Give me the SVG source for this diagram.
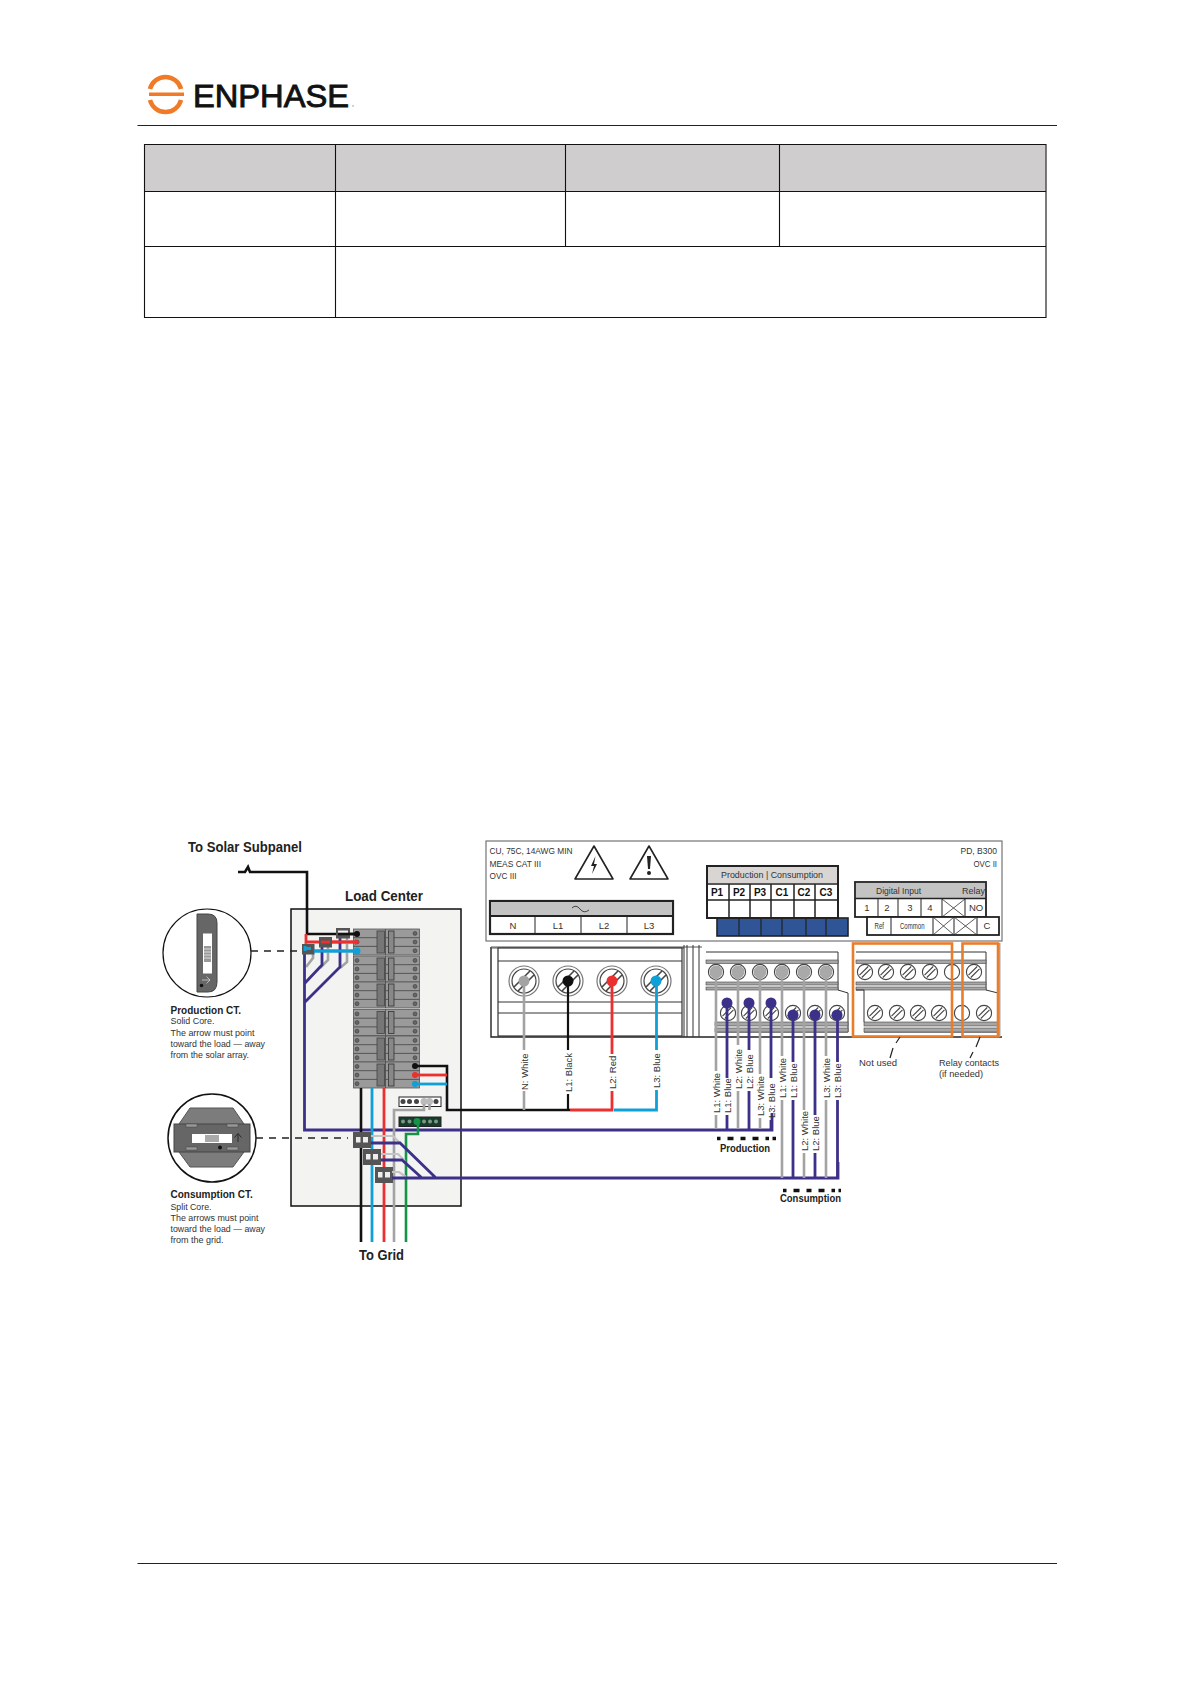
<svg xmlns="http://www.w3.org/2000/svg" width="1191" height="1684" viewBox="0 0 1191 1684">
<style>
text{font-family:"Liberation Sans",Arial,sans-serif;fill:#333}
.h{font-weight:bold;fill:#222;font-size:14px}
.b{font-weight:bold;fill:#222;font-size:10px}
.s{font-size:9.6px}
.m{font-size:9.5px;text-anchor:middle}
.c{font-size:10px;text-anchor:middle;fill:#222}
.k{font-weight:bold;font-size:10px;text-anchor:middle;fill:#111}
.r{font-size:9.5px}
.pu{stroke:#3c3188;stroke-width:2.8;fill:none}
.gy{stroke:#a3a3a3;stroke-width:2.6;fill:none}
.lg{stroke:#c4c4c4;stroke-width:2.2;fill:none}
.bk{stroke:#111;stroke-width:2.6;fill:none}
.rd{stroke:#ec2f2f;stroke-width:2.8;fill:none}
.bl{stroke:#10a0d8;stroke-width:2.8;fill:none}
.gn{stroke:#159447;stroke-width:2.6;fill:none}
.or{fill:none;stroke:#ea7d2c;stroke-width:2.6}
.ln{stroke:#333;stroke-width:1;fill:none}
.ct{fill:#555;stroke:none}
</style>
<defs>
<g id="scr"><circle r="7.6" fill="#fff" stroke="#444" stroke-width="1.1"/><path d="M-5.5 3.2 3.2-5.5M-3.2 5.5 5.5-3.2" stroke="#444" stroke-width="1.1" fill="none"/></g>
<g id="big"><circle r="15" fill="#fff" stroke="#777" stroke-width="1.2"/><circle r="12" fill="#fff" stroke="#444" stroke-width="1.2"/><path d="M-10 6 6-10M-6 10 10-6" stroke="#444" stroke-width="1.6" fill="none"/></g>
<g id="brk">
<rect width="66" height="26" fill="#9a9a9a" stroke="#555" stroke-width=".8"/>
<path d="M0 8.7H66M0 17.4H66" stroke="#444" stroke-width=".8"/>
<path d="M32 0V26" stroke="#555" stroke-width="1"/>
<rect x="23.500" y="2" width="7.500" height="22" fill="#777" stroke="#444" stroke-width=".8"/>
<rect x="35" y="2" width="5.500" height="22" fill="#888" stroke="#333" stroke-width=".8"/>
<g fill="#666" stroke="#333" stroke-width=".5"><circle cx="3.500" cy="4.400" r="2"/><circle cx="3.500" cy="13" r="2"/><circle cx="3.500" cy="21.700" r="2"/><circle cx="61.500" cy="4.400" r="2"/><circle cx="61.500" cy="13" r="2"/><circle cx="61.500" cy="21.700" r="2"/></g>
</g>
<g id="cctf"><rect width="18" height="16" fill="#555"/><rect x="3" y="5" width="12" height="5.500" fill="#eee"/><rect x="7.500" y="5" width="2.500" height="11" fill="#555"/></g>
</defs>
<rect width="1191" height="1684" fill="#fff"/>

<g id="logo">
<path d="M150 89A16 16 0 0 1 181 89M150 100A16 16 0 0 0 181 100" fill="none" stroke="#f07a26" stroke-width="4.500"/>
<rect x="149" y="92.500" width="35" height="3.500" fill="#f07a26"/>
<text x="193" y="106.500" font-size="32" textLength="156" lengthAdjust="spacingAndGlyphs" style="fill:#111;stroke:#111;stroke-width:.9">ENPHASE</text>
<circle cx="353" cy="106" r=".8" fill="#999"/>
</g>
<g id="page-rules">
<path d="M137.500 125.500H1057M137.500 1563.500H1057" stroke="#222" stroke-width="1.2"/>
</g>
<g id="table">
<rect x="144.500" y="144.500" width="901" height="46.500" fill="#cfcdce"/>
<path d="M144.500 144.500H1046V317.500H144.500ZM144.500 191.500H1046M144.500 246.500H1046M335.500 144.500V317.500M565.500 144.500V246.500M779.500 144.500V246.500" fill="none" stroke="#111" stroke-width="1.1"/>
</g>

<g id="load-center">
<rect x="291" y="909" width="170" height="297" fill="#f3f3f2" stroke="#111" stroke-width="1.500"/>
<text class="h" x="345" y="900.500" textLength="78" lengthAdjust="spacingAndGlyphs">Load Center</text>
<g id="breakers">
<use href="#brk" x="353.500" y="929"/><use href="#brk" x="353.500" y="956"/><use href="#brk" x="353.500" y="982"/><use href="#brk" x="353.500" y="1009.500"/><use href="#brk" x="353.500" y="1036"/><use href="#brk" x="353.500" y="1062"/>
</g>
<g id="bus-neutral"><rect x="399" y="1097" width="42" height="9.500" fill="#fff" stroke="#222" stroke-width="1"/>
<g fill="#444"><circle cx="403" cy="1101.500" r="2.500"/><circle cx="409.500" cy="1101.500" r="2.500"/><circle cx="416.500" cy="1101.500" r="2.500"/><circle cx="436" cy="1101.500" r="2.500"/></g>
<g fill="#bbb"><circle cx="424" cy="1101.500" r="3.500"/><circle cx="429.500" cy="1101.500" r="3.500"/></g></g>
<g id="bus-ground"><rect x="399" y="1117" width="42" height="9.500" fill="#183c2c" stroke="#222" stroke-width="1"/>
<g fill="#7b9a86"><circle cx="403" cy="1121.500" r="2"/><circle cx="409.500" cy="1121.500" r="2"/><circle cx="424" cy="1121.500" r="2"/><circle cx="430" cy="1121.500" r="2"/><circle cx="436" cy="1121.500" r="2"/></g></g>
</g>

<g id="production-ct">
<circle cx="207" cy="953" r="44" fill="#fff" stroke="#111" stroke-width="1.200"/>
<path d="M197 914H208Q217 914 217 923V982Q217 992 208 992H197Z" fill="#666" stroke="#444"/>
<rect x="203" y="933.500" width="9" height="40" fill="#fff"/>
<rect x="204" y="946" width="7" height="16" fill="#999"/>
<path d="M204 949H211M204 952H211M204 955H211M204 958H211" stroke="#eee" stroke-width=".8"/>
<circle cx="201.500" cy="985.500" r="1.800" fill="#111"/>
<path d="M202 980H210M206.500 976.500 210 980 206.500 983.500" stroke="#ddd" fill="none" stroke-width=".7"/>
<text class="b" x="170.500" y="1013.500">Production CT.</text>
<text class="s" x="170.500" y="1024" textLength="44" lengthAdjust="spacingAndGlyphs">Solid Core.</text>
<text class="s" x="170.500" y="1035.500" textLength="84" lengthAdjust="spacingAndGlyphs">The arrow must point</text>
<text class="s" x="170.500" y="1047" textLength="94.500" lengthAdjust="spacingAndGlyphs">toward the load — away</text>
<text class="s" x="170.500" y="1057.500" textLength="78.500" lengthAdjust="spacingAndGlyphs">from the solar array.</text>
</g>
<g id="consumption-ct">
<circle cx="212" cy="1138" r="44" fill="#fff" stroke="#111" stroke-width="1.500"/>
<path d="M190 1108H233L244 1124V1152L233 1167H190L179 1152V1124Z" fill="#7c7c7c" stroke="#555"/>
<rect x="174" y="1124" width="76" height="28" fill="#666" stroke="#444"/>
<rect x="192" y="1134" width="40" height="9" fill="#fff"/>
<rect x="205" y="1135" width="14" height="7" fill="#aaa"/>
<g fill="#999" stroke="#444" stroke-width=".5"><rect x="186" y="1124" width="11" height="3"/><rect x="227" y="1124" width="11" height="3"/><rect x="186" y="1147" width="11" height="3"/><rect x="227" y="1147" width="11" height="3"/></g>
<circle cx="220" cy="1147.500" r="2" fill="#111"/>
<path d="M238 1142V1134M234.500 1137.500 238 1133.500 241.500 1137.500" stroke="#222" fill="none" stroke-width=".9"/>
<text class="b" x="170.500" y="1198">Consumption CT.</text>
<text class="s" x="170.500" y="1209.500" textLength="41" lengthAdjust="spacingAndGlyphs">Split Core.</text>
<text class="s" x="170.500" y="1221" textLength="88" lengthAdjust="spacingAndGlyphs">The arrows must point</text>
<text class="s" x="170.500" y="1232" textLength="94.500" lengthAdjust="spacingAndGlyphs">toward the load — away</text>
<text class="s" x="170.500" y="1243" textLength="53" lengthAdjust="spacingAndGlyphs">from the grid.</text>
</g>

<g id="terminal-panel">
<rect x="486" y="841" width="516" height="100" fill="#fff" stroke="#666" stroke-width="1.100"/>
<text class="r" x="489.500" y="854" textLength="83" lengthAdjust="spacingAndGlyphs">CU, 75C, 14AWG MIN</text>
<text class="r" x="489.500" y="867" textLength="51.500" lengthAdjust="spacingAndGlyphs">MEAS CAT III</text>
<text class="r" x="489.500" y="878.500" textLength="27" lengthAdjust="spacingAndGlyphs">OVC III</text>
<text class="r" x="960.500" y="854" textLength="36.500" lengthAdjust="spacingAndGlyphs">PD, B300</text>
<text class="r" x="973.500" y="867" textLength="23.500" lengthAdjust="spacingAndGlyphs">OVC II</text>
<path d="M594 846 575 879H613Z" fill="#fff" stroke="#222" stroke-width="1.600" stroke-linejoin="round"/>
<path d="M595.500 856 591 866 594 866 592 874 597 864 594 864Z" fill="#222"/>
<path d="M649 846 630 879H668Z" fill="#fff" stroke="#222" stroke-width="1.600" stroke-linejoin="round"/>
<path d="M647 856H651L650 869H648Z" fill="#222"/><circle cx="649" cy="873" r="2" fill="#222"/>
<g id="ac-block">
<rect x="490" y="901" width="183" height="33" fill="#fff" stroke="#222" stroke-width="2.200"/>
<rect x="491" y="902" width="181" height="14" fill="#c3c3c3"/>
<path d="M490 916H673" stroke="#222" stroke-width="1.800"/>
<path d="M535 916V934M581 916V934M627 916V934" stroke="#222" stroke-width="1"/>
<path d="M572 908Q576 904 580 909T589 910" fill="none" stroke="#333" stroke-width=".9"/>
<text class="m" x="513" y="929">N</text><text class="m" x="558" y="929">L1</text><text class="m" x="604" y="929">L2</text><text class="m" x="649" y="929">L3</text>
</g>
<g id="ct-labels">
<rect x="717" y="918" width="131" height="18" fill="#2f5597" stroke="#222" stroke-width="1.600"/>
<path d="M739 918V936M761 918V936M782 918V936M806 918V936M826 918V936" stroke="#222" stroke-width="1.200"/>
<rect x="707" y="866" width="131" height="52" fill="#fff" stroke="#222" stroke-width="2"/>
<rect x="708" y="867" width="129" height="16" fill="#d8d5d2"/>
<path d="M707 884H838M707 900H838" stroke="#222" stroke-width="1.500"/>
<path d="M729 884V918M750 884V918M771 884V918M794 884V918M815 884V918" stroke="#222" stroke-width="1.500"/>
<text class="m" x="772" y="878" style="font-size:9px" textLength="102" lengthAdjust="spacingAndGlyphs">Production  |  Consumption</text>
<text class="k" x="717" y="896">P1</text><text class="k" x="739" y="896">P2</text><text class="k" x="760" y="896">P3</text><text class="k" x="782" y="896">C1</text><text class="k" x="804" y="896">C2</text><text class="k" x="826" y="896">C3</text>
</g>
<g id="io-labels">
<rect x="855" y="882" width="131" height="35" fill="#fff" stroke="#222" stroke-width="1.800"/>
<rect x="856" y="883" width="129" height="15" fill="#c3c3c3"/>
<path d="M855 898.500H986" stroke="#222" stroke-width="1.500"/>
<path d="M878 899V917M898 899V917M921 899V917M942 899V917M965 899V917" stroke="#222" stroke-width="1"/>
<path d="M942 899 965 917M965 899 942 917" stroke="#333" stroke-width=".8"/>
<text class="r" x="876" y="894" textLength="45" lengthAdjust="spacingAndGlyphs">Digital Input</text><text class="r" x="962" y="894" textLength="23" lengthAdjust="spacingAndGlyphs">Relay</text>
<text class="m" x="867" y="911">1</text><text class="m" x="887" y="911">2</text><text class="m" x="910" y="911">3</text><text class="m" x="930" y="911">4</text><text class="m" x="976" y="911">NO</text>
<rect x="867" y="917" width="132" height="18" fill="#fff" stroke="#222" stroke-width="1.800"/>
<path d="M891 917V935M933 917V935M954 917V935M977 917V935" stroke="#222" stroke-width="1"/>
<path d="M933 917 954 935M954 917 933 935M954 917 977 935M977 917 954 935" stroke="#333" stroke-width=".8"/>
<text class="r" x="874.500" y="929" textLength="9.500" lengthAdjust="spacingAndGlyphs">Ref</text><text class="r" x="900" y="929" textLength="24.500" lengthAdjust="spacingAndGlyphs">Common</text><text class="m" x="987" y="929">C</text>
</g>
</g>

<g id="terminal-blocks">
<path d="M491 947V1037H1002" style="stroke:#222;stroke-width:1.400;fill:none"/>
<path d="M491 947H702M490 948H684" stroke="#555" fill="none"/>
<rect x="498" y="948" width="184" height="88" fill="#fff" stroke="#333" stroke-width="1.200"/>
<path d="M498 961H682M498 1002H682M498 1013H682" stroke="#333" stroke-width="1"/>
<path d="M684 945V1037M687 945V1037M693 945V1037M699 945V1037" stroke="#333" stroke-width="1"/>
<use href="#big" x="524" y="981"/><use href="#big" x="568" y="981"/><use href="#big" x="612" y="981"/><use href="#big" x="656" y="981"/>
<path id="block-mid" d="M706 952H838V990L848 993V1032H715" fill="#fff" stroke="#333" stroke-width="1"/>
<g fill="#a7a7a7" stroke="#444" stroke-width=".6"><rect x="706" y="960" width="132" height="3.500"/><rect x="706" y="982" width="132" height="3"/><rect x="706" y="987" width="132" height="3"/><rect x="715" y="1022" width="133" height="4"/><rect x="715" y="1028" width="133" height="4"/></g>
<path id="block-right" d="M856 952H986V990L998 993V1032H864" fill="#fff" stroke="#333" stroke-width="1"/>
<g fill="#a7a7a7" stroke="#444" stroke-width=".6"><rect x="856" y="960" width="130" height="3.500"/><rect x="856" y="982" width="130" height="3"/><rect x="856" y="987" width="130" height="3"/><rect x="864" y="1022" width="134" height="4"/><rect x="864" y="1028" width="134" height="4"/></g>
<path d="M856 990H864V1022" fill="none" stroke="#333"/>
<rect x="998" y="943" width="2.500" height="94" fill="#aaa"/>
<use href="#scr" x="716" y="972"/><use href="#scr" x="738" y="972"/><use href="#scr" x="760" y="972"/><use href="#scr" x="782" y="972"/><use href="#scr" x="804" y="972"/><use href="#scr" x="826" y="972"/>
<use href="#scr" x="728" y="1013"/><use href="#scr" x="749" y="1013"/><use href="#scr" x="771" y="1013"/><use href="#scr" x="793" y="1013"/><use href="#scr" x="815" y="1013"/><use href="#scr" x="837" y="1013"/>
<use href="#scr" x="865" y="972"/><use href="#scr" x="886" y="972"/><use href="#scr" x="908" y="972"/><use href="#scr" x="930" y="972"/><circle cx="952" cy="972" r="7.600" fill="#fff" stroke="#444" stroke-width="1.100"/><use href="#scr" x="974" y="972"/>
<use href="#scr" x="875" y="1013"/><use href="#scr" x="897" y="1013"/><use href="#scr" x="918" y="1013"/><use href="#scr" x="939" y="1013"/><circle cx="962" cy="1013" r="7.600" fill="#fff" stroke="#444" stroke-width="1.100"/><use href="#scr" x="984" y="1013"/>
<rect class="or" x="853" y="943.500" width="99" height="93"/>
<rect class="or" x="962.500" y="943.500" width="35.500" height="93"/>
<text class="r" x="859" y="1066" textLength="38" lengthAdjust="spacingAndGlyphs">Not used</text>
<text class="r" x="939" y="1066" textLength="60" lengthAdjust="spacingAndGlyphs">Relay contacts</text>
<text class="r" x="939" y="1077" textLength="44" lengthAdjust="spacingAndGlyphs">(if needed)</text>
</g>

<g id="connectors">
<path class="bk" d="M238 872H245L248 867L250 872H307V934H357"/>
<path class="rd" d="M306 934V942H358"/>
<path class="bl" d="M306 943V951H358"/>
<path d="M251 951H305" stroke="#222" stroke-width="1.300" stroke-dasharray="7 6" fill="none"/>
<path d="M256 1138H348" stroke="#222" stroke-width="1.300" stroke-dasharray="7 6" fill="none"/>

<path class="gy" d="M313 953V958L306 967M328 947V960L320 968M347 938V962L340 968"/>
<path class="pu" d="M304.500 951V1130H772V1113M322 947V965L305 983M340 938V967L305 1002"/>
<g class="ct"><rect x="302" y="944" width="12.500" height="10.500"/><rect x="319" y="937" width="13" height="10.500"/><rect x="336" y="928" width="14" height="10.500"/></g>
<path class="bl" d="M305 948.500H311M305 946V951"/>
<path class="rd" d="M321 942H330"/>
<path d="M338 932H348" stroke="#eee" stroke-width="3"/>
<path class="bl" d="M314 951H358"/><path class="rd" d="M332 942H358"/><path class="bk" d="M338 934H357"/>
<g><circle cx="357" cy="934" r="3" fill="#111"/><path d="M355 939 360 942 355 945Z" fill="#ec2f2f"/><circle cx="357" cy="951" r="3.500" fill="#10a0d8"/></g>

<path class="bk" d="M415 1066H447V1110H570"/>
<path class="rd" d="M415 1075H447"/><path class="bl" d="M415 1084H447"/>
<circle cx="415" cy="1066" r="3" fill="#111"/><circle cx="415" cy="1075" r="3" fill="#ec2f2f"/><circle cx="415" cy="1084" r="3" fill="#10a0d8"/>

<path class="bk" d="M361 1088V1242"/><path class="bl" d="M372 1088V1242"/><path class="rd" d="M384 1088V1242"/>
<path class="gy" d="M394 1242V1110H424V1104M429.500 1110V1104"/>
<path class="gn" d="M406 1242V1134H418V1122"/><circle cx="417" cy="1121.500" r="3.500" fill="#159447"/>

<use href="#cctf" x="353" y="1132"/><use href="#cctf" x="363" y="1149"/><use href="#cctf" x="375" y="1167"/>
<path class="lg" d="M371 1136H393L400 1143M381 1154H398L405 1161M392 1172H399L406 1177"/>
<path class="pu" d="M371 1143H400L436 1178M381 1160H402L422 1178M392 1178H838V1162"/>

<path class="gy" d="M524 981V1050M524 1091V1110"/>
<path class="bk" style="stroke-width:2.200" d="M568 981V1050M568 1094V1110"/>
<path class="rd" d="M612 981V1054M612 1091V1110H570"/>
<path class="bl" d="M656.500 981V1050M656.500 1090V1110H614"/>
<circle cx="524" cy="981" r="5.500" fill="#a3a3a3"/><circle cx="568" cy="981" r="5.500" fill="#111"/><circle cx="612" cy="981" r="5.500" fill="#ec2f2f"/><circle cx="656" cy="981" r="5.500" fill="#10a0d8"/>

<path class="gy" d="M716 972V1071M716 1115V1129M738 972V1045M738 1091V1129M760 972V1074M760 1118V1129M782 972V1056M782 1100V1178M804 972V1110M804 1153V1178M826 972V1056M826 1100V1178"/>
<path class="pu" d="M727 1003V1078M727 1115V1129M749 1003V1050M749 1091V1129M771 1003V1078M771 1120V1130M793 1015V1062M793 1100V1178M815 1015V1115M815 1153V1178M837.500 1015V1062M837.500 1100V1178"/>
<g fill="#a9a9a9"><circle cx="716" cy="972" r="6.500"/><circle cx="738" cy="972" r="6.500"/><circle cx="760" cy="972" r="6.500"/><circle cx="782" cy="972" r="6.500"/><circle cx="804" cy="972" r="6.500"/><circle cx="826" cy="972" r="6.500"/></g>
<g fill="#3c3188"><circle cx="727" cy="1003" r="5.500"/><circle cx="749" cy="1003" r="5.500"/><circle cx="771" cy="1003" r="5.500"/><circle cx="793" cy="1015" r="5.500"/><circle cx="815" cy="1015" r="5.500"/><circle cx="837" cy="1015" r="5.500"/></g>
<path d="M717 1138.500H776" stroke="#111" stroke-width="3.500" stroke-dasharray="3.500 7 6 7 5 7 6 7 3.500" fill="none"/>
<path d="M783 1190.500H841" stroke="#111" stroke-width="3.500" stroke-dasharray="3.500 7 6 7 5 7 6 7 3.500" fill="none"/>
<path d="M900 1037 896 1043M893 1048 890 1058" stroke="#222" stroke-width="1.200" fill="none"/>
<path d="M980 1037 976 1047M973 1052 970 1058" stroke="#222" stroke-width="1.200" fill="none"/>
</g>

<g id="wire-labels">
<text class="r" transform="translate(527.500 1090) rotate(-90)">N: White</text>
<text class="r" transform="translate(571.500 1092) rotate(-90)">L1: Black</text>
<text class="r" transform="translate(615.500 1089) rotate(-90)">L2: Red</text>
<text class="r" transform="translate(660 1088) rotate(-90)">L3: Blue</text>
<text class="r" transform="translate(719.500 1113) rotate(-90)">L1: White</text>
<text class="r" transform="translate(730.500 1113) rotate(-90)">L1: Blue</text>
<text class="r" transform="translate(741.500 1089) rotate(-90)">L2: White</text>
<text class="r" transform="translate(752.500 1089) rotate(-90)">L2: Blue</text>
<text class="r" transform="translate(763.500 1116) rotate(-90)">L3: White</text>
<text class="r" transform="translate(774.500 1118) rotate(-90)">L3: Blue</text>
<text class="r" transform="translate(785.500 1098) rotate(-90)">L1: White</text>
<text class="r" transform="translate(796.500 1098) rotate(-90)">L1: Blue</text>
<text class="r" transform="translate(807.500 1151) rotate(-90)">L2: White</text>
<text class="r" transform="translate(818.500 1151) rotate(-90)">L2: Blue</text>
<text class="r" transform="translate(829.500 1098) rotate(-90)">L3: White</text>
<text class="r" transform="translate(840.500 1098) rotate(-90)">L3: Blue</text>
<text class="h" x="188" y="852" textLength="114" lengthAdjust="spacingAndGlyphs">To Solar Subpanel</text>
<text class="h" x="359" y="1260" textLength="45" lengthAdjust="spacingAndGlyphs">To Grid</text>
<text class="b" x="720" y="1152" textLength="50" lengthAdjust="spacingAndGlyphs">Production</text>
<text class="b" x="780" y="1202" textLength="61" lengthAdjust="spacingAndGlyphs">Consumption</text>
</g>
</svg>
